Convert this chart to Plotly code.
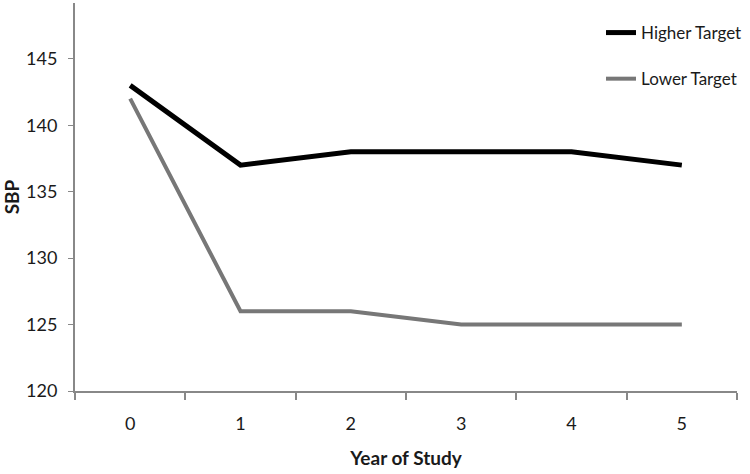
import plotly.graph_objects as go

years = ["0", "1", "2", "3", "4", "5"]
higher_target = [143, 137, 138, 138, 138, 137]
lower_target = [142, 126, 126, 125, 125, 125]
y_ticks = [120, 125, 130, 135, 140, 145]

FONT = "Lato, 'Open Sans', sans-serif"

fig = go.Figure()
fig.add_trace(go.Scatter(x=years, y=higher_target, mode="lines", name="Higher Target",
                         line=dict(color="#000000", width=5), legendgroup="a"))
fig.add_trace(go.Scatter(x=years, y=lower_target, mode="lines", name="Lower Target",
                         line=dict(color="#777777", width=4), legendgroup="b"))

fig.update_layout(
    width=750, height=474,
    margin=dict(l=75, r=13, t=3, b=83, autoexpand=False),
    paper_bgcolor="white", plot_bgcolor="white",
    font=dict(family=FONT, size=17, color="#1a1a1a"),
    showlegend=True,
    legend=dict(x=0.7946, y=0.969, xanchor="left", yanchor="top",
                tracegroupgap=21, font=dict(size=17, color="#1a1a1a"),
                bgcolor="rgba(0,0,0,0)"),
    xaxis=dict(type="category", tickson="boundaries", ticks="outside", ticklen=7,
               tickcolor="#888888", tickwidth=1.5, showline=True, linecolor="#888888",
               linewidth=2, showgrid=False, zeroline=False, automargin=False,
               tickfont=dict(size=18), ticklabelstandoff=15,
               title=dict(text="<b>Year of Study</b>", font=dict(size=19), standoff=19),
               range=[-0.5, 5.5]),
    yaxis=dict(range=[120, 149.2], tickvals=y_ticks, ticks="outside", ticklen=5,
               tickcolor="#888888", showline=True, linecolor="#888888", linewidth=2,
               showgrid=False, zeroline=False, automargin=False,
               tickfont=dict(size=18), ticklabelstandoff=7,
               title=dict(text="<b>SBP</b>", font=dict(size=19), standoff=9)),
)

fig.write_html("out.html", post_script="document.body.style.margin='0';",
               config={"displayModeBar": False})
